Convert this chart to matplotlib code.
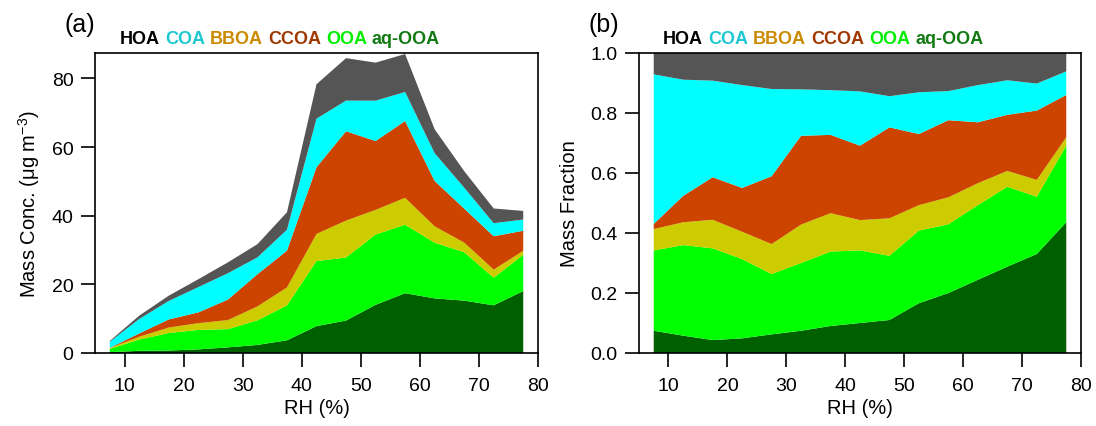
import matplotlib
matplotlib.use('Agg')
import matplotlib.pyplot as plt
import matplotlib.text as mtext
import numpy as np

plt.rcParams['font.family'] = ['Liberation Sans', 'DejaVu Sans']
plt.rcParams['mathtext.fontset'] = 'custom'
plt.rcParams['mathtext.rm'] = 'Liberation Sans'
plt.rcParams['mathtext.it'] = 'Liberation Sans:italic'

# ---- data ----
rh = [7.5, 12.5, 17.5, 22.5, 27.5, 32.5, 37.5, 42.5, 47.5, 52.5, 57.5, 62.5, 67.5, 72.5, 77.5]
aq_ooa = [0.26, 0.63, 0.72, 1.05, 1.64, 2.35, 3.69, 7.83, 9.45, 14.04, 17.42, 15.91, 15.26, 13.89, 18.05]
ooa = [0.94, 3.29, 5.11, 5.68, 5.31, 7.16, 10.17, 18.95, 18.38, 20.47, 19.95, 16.23, 14.10, 8.04, 10.56]
bboa = [0.25, 0.83, 1.59, 1.96, 2.64, 4.06, 5.25, 7.91, 10.74, 7.19, 7.84, 4.76, 2.81, 2.36, 1.16]
ccoa = [0.06, 0.96, 2.37, 3.14, 5.97, 9.38, 10.70, 19.42, 26.03, 20.05, 22.38, 13.24, 9.91, 9.73, 5.84]
coa = [1.75, 4.22, 5.38, 7.37, 7.68, 4.91, 6.11, 14.17, 8.93, 11.76, 8.45, 8.08, 6.10, 3.79, 3.26]
hoa = [0.25, 0.97, 1.54, 2.30, 3.17, 3.84, 5.08, 10.02, 12.37, 11.08, 11.06, 6.98, 4.82, 4.29, 2.53]

factor_names = ['HOA', 'COA', 'BBOA', 'CCOA', 'OOA', 'aq-OOA']
x_ticks = [10, 20, 30, 40, 50, 60, 70, 80]
yticks_a = [0, 20, 40, 60, 80]
yticks_b = [0.0, 0.2, 0.4, 0.6, 0.8, 1.0]

# ---- styles ----
fill_colors = ['#006000', '#00FF00', '#CCCC00', '#CC4400', '#00FFFF', '#555555']
legend_colors = ['#000000', '#1EC8D2', '#CC8A00', '#A03800', '#00EE00', '#137A13']

stack = np.array([aq_ooa, ooa, bboa, ccoa, coa, hoa])
total = stack.sum(axis=0)
frac = stack / total

W, H = 1096, 427
fig = plt.figure(figsize=(W / 100, H / 100), dpi=100)


def box(l, r, t, b):
    return [l / W, 1 - b / H, (r - l) / W, (b - t) / H]


ax1 = fig.add_axes(box(95, 538, 54, 354))
ax2 = fig.add_axes(box(639, 1081, 54, 354))

ax1.stackplot(rh, *stack, colors=fill_colors, linewidth=0)
ax2.stackplot(rh, *frac, colors=fill_colors, linewidth=0)

ax1.set_ylim(0, 87.4)
ax2.set_ylim(0, 1.0)
for ax in (ax1, ax2):
    ax.set_xlim(5, 80)
    ax.set_xticks(x_ticks)
    ax.tick_params(direction='out', length=10, width=1.2, labelsize=14,
                   color='black')
    ax.tick_params(axis='x', pad=7.5)
    ax.tick_params(axis='y', pad=5.5)
    for s in ax.spines.values():
        s.set_linewidth(1.2)
    ax.set_xlabel('RH (%)', fontsize=14.5, labelpad=3)

ax1.set_yticks(yticks_a)
ax2.set_yticks(yticks_b)
ax2.set_yticklabels([f'{v:.1f}' for v in yticks_b])
ax1.set_ylabel(r'Mass Conc. ($\mathrm{\mu}$g m$^{-3}$)', fontsize=14.5, labelpad=7)
ax2.set_ylabel('Mass Fraction', fontsize=14.5, labelpad=8)

fig.text(65 / W, 1 - 25 / H, '(a)', fontsize=18, va='center', ha='left')
fig.text(588 / W, 1 - 25 / H, '(b)', fontsize=18, va='center', ha='left')


def legend_seq(x0):
    prev = fig.text(x0 / W, 1 - 44 / H, factor_names[0], fontsize=13,
                    fontweight='bold', color=legend_colors[0], va='baseline')
    for name, c in zip(factor_names[1:], legend_colors[1:]):
        prev = fig.add_artist(mtext.Annotation(
            name, xy=(1, 0), xycoords=prev, xytext=(3.6, 0),
            textcoords='offset points', fontsize=13, fontweight='bold',
            color=c, va='bottom', ha='left'))


legend_seq(120)
legend_seq(663)

fig.savefig('out.png', dpi=100)
